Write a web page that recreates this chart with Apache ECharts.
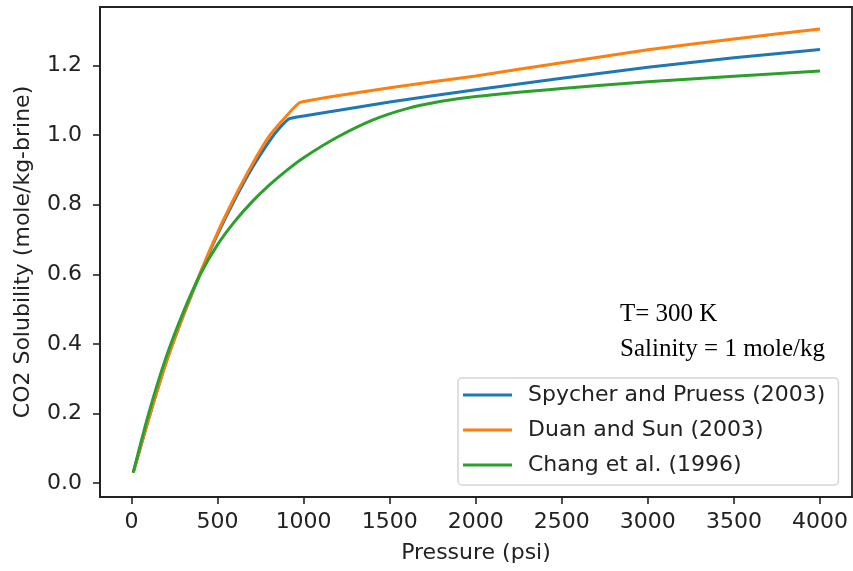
<!DOCTYPE html>
<html>
<head>
<meta charset="utf-8">
<script src="https://cdn.jsdelivr.net/npm/echarts@6.0.0/dist/echarts.min.js"></script>
<style>
  html, body { margin: 0; padding: 0; background: #fff; }
  #container { width: 853px; height: 571px; }
</style>
</head>
<body>
<div id="container"></div>
<script>
// pressure (psi) and solubility (mole/kg-brine)
var spycherP = [10, 100, 200, 300, 400, 500, 600, 700, 800, 860, 917, 1000, 1500, 2000, 2500, 3000, 3500, 4000];
var spycherS = [0.03, 0.185, 0.345, 0.48, 0.603, 0.715, 0.815, 0.905, 0.982, 1.02, 1.047, 1.055, 1.095, 1.13, 1.163, 1.195, 1.222, 1.246];

var duanP = [10, 100, 200, 300, 400, 500, 600, 700, 800, 900, 980, 1500, 2000, 2500, 3000, 3500, 4000];
var duanS = [0.03, 0.185, 0.345, 0.48, 0.605, 0.72, 0.822, 0.915, 0.997, 1.055, 1.094, 1.136, 1.17, 1.208, 1.245, 1.276, 1.305];

var changP = [10, 100, 200, 300, 400, 500, 600, 700, 800, 900, 1000, 1200, 1400, 1600, 1800, 2000, 2500, 3000, 3500, 4000];
var changS = [0.03, 0.2, 0.36, 0.49, 0.6, 0.685, 0.752, 0.808, 0.856, 0.898, 0.935, 0.995, 1.043, 1.076, 1.097, 1.111, 1.134, 1.153, 1.169, 1.184];

var seriesNames = ['Spycher and Pruess (2003)', 'Duan and Sun (2003)', 'Chang et al. (1996)'];
var seriesColors = ['#1f77b4', '#ff7f0e', '#2ca02c'];
var seriesSmooth = [0.15, 0.15, 0.3];

var xTicks = [0, 500, 1000, 1500, 2000, 2500, 3000, 3500, 4000];
var yTicks = [0.0, 0.2, 0.4, 0.6, 0.8, 1.0, 1.2];

var noteLines = ['T= 300 K', 'Salinity = 1 mole/kg'];

function pairs(xs, ys) {
    var out = [];
    for (var i = 0; i < xs.length; i++) {
        out.push([xs[i], ys[i]]);
    }
    return out;
}

var font = 'DejaVu Sans';
var textColor = '#222';
var axisColor = '#222';

var myChart = echarts.init(document.getElementById('container'), null, {renderer: 'canvas'});

var lineData = [pairs(spycherP, spycherS), pairs(duanP, duanS), pairs(changP, changS)];
var series = [];
for (var i = 0; i < seriesNames.length; i++) {
    series.push({
        name: seriesNames[i],
        type: 'line',
        data: lineData[i],
        showSymbol: false,
        symbol: 'none',
        smooth: seriesSmooth[i],
        color: seriesColors[i],
        lineStyle: {width: 3, color: seriesColors[i]},
        z: 2 + i
    });
}

var option = {
    backgroundColor: '#fff',
    animation: false,
    grid: {
        left: 100,
        right: 1,
        top: 7,
        bottom: 74,
        show: true,
        borderColor: axisColor,
        borderWidth: 1.8,
        backgroundColor: 'transparent'
    },
    xAxis: {
        type: 'value',
        min: -183,
        max: 4186,
        name: 'Pressure (psi)',
        nameLocation: 'middle',
        nameGap: 45,
        nameTextStyle: {fontFamily: font, fontSize: 22, color: textColor},
        axisLine: {show: true, onZero: false, lineStyle: {color: axisColor, width: 1.8}},
        axisTick: {show: true, length: 7, customValues: xTicks, lineStyle: {color: axisColor, width: 1.6}},
        axisLabel: {
            customValues: xTicks,
            margin: 14,
            fontFamily: font,
            fontSize: 22,
            color: textColor,
            formatter: function (v) { return String(v); }
        },
        splitLine: {show: false}
    },
    yAxis: {
        type: 'value',
        min: -0.04,
        max: 1.368,
        name: 'CO2 Solubility (mole/kg-brine)',
        nameLocation: 'middle',
        nameGap: 66,
        nameTextStyle: {fontFamily: font, fontSize: 22, color: textColor},
        axisLine: {show: true, onZero: false, lineStyle: {color: axisColor, width: 1.8}},
        axisTick: {show: true, length: 7, customValues: yTicks, lineStyle: {color: axisColor, width: 1.6}},
        axisLabel: {
            customValues: yTicks,
            margin: 18,
            fontFamily: font,
            fontSize: 22,
            color: textColor,
            formatter: function (v) { return v.toFixed(1); }
        },
        splitLine: {show: false}
    },
    legend: {
        orient: 'vertical',
        left: 458,
        top: 378,
        padding: [6, 13, 9, 5],
        itemGap: 13,
        itemWidth: 49,
        itemHeight: 3,
        icon: 'rect',
        backgroundColor: 'rgba(255,255,255,0.8)',
        borderColor: '#d5d5d5',
        borderWidth: 1.5,
        borderRadius: 4,
        data: seriesNames,
        textStyle: {
            fontFamily: font,
            fontSize: 22,
            lineHeight: 22,
            color: textColor,
            padding: [0, 0, 0, 11]
        }
    },
    graphic: [
        {
            type: 'text',
            left: 620,
            top: 297,
            style: {
                text: noteLines.join('\n'),
                font: '25px "Liberation Serif"',
                lineHeight: 35,
                fill: '#000'
            }
        }
    ],
    series: series
};

myChart.setOption(option);
</script>
</body>
</html>
